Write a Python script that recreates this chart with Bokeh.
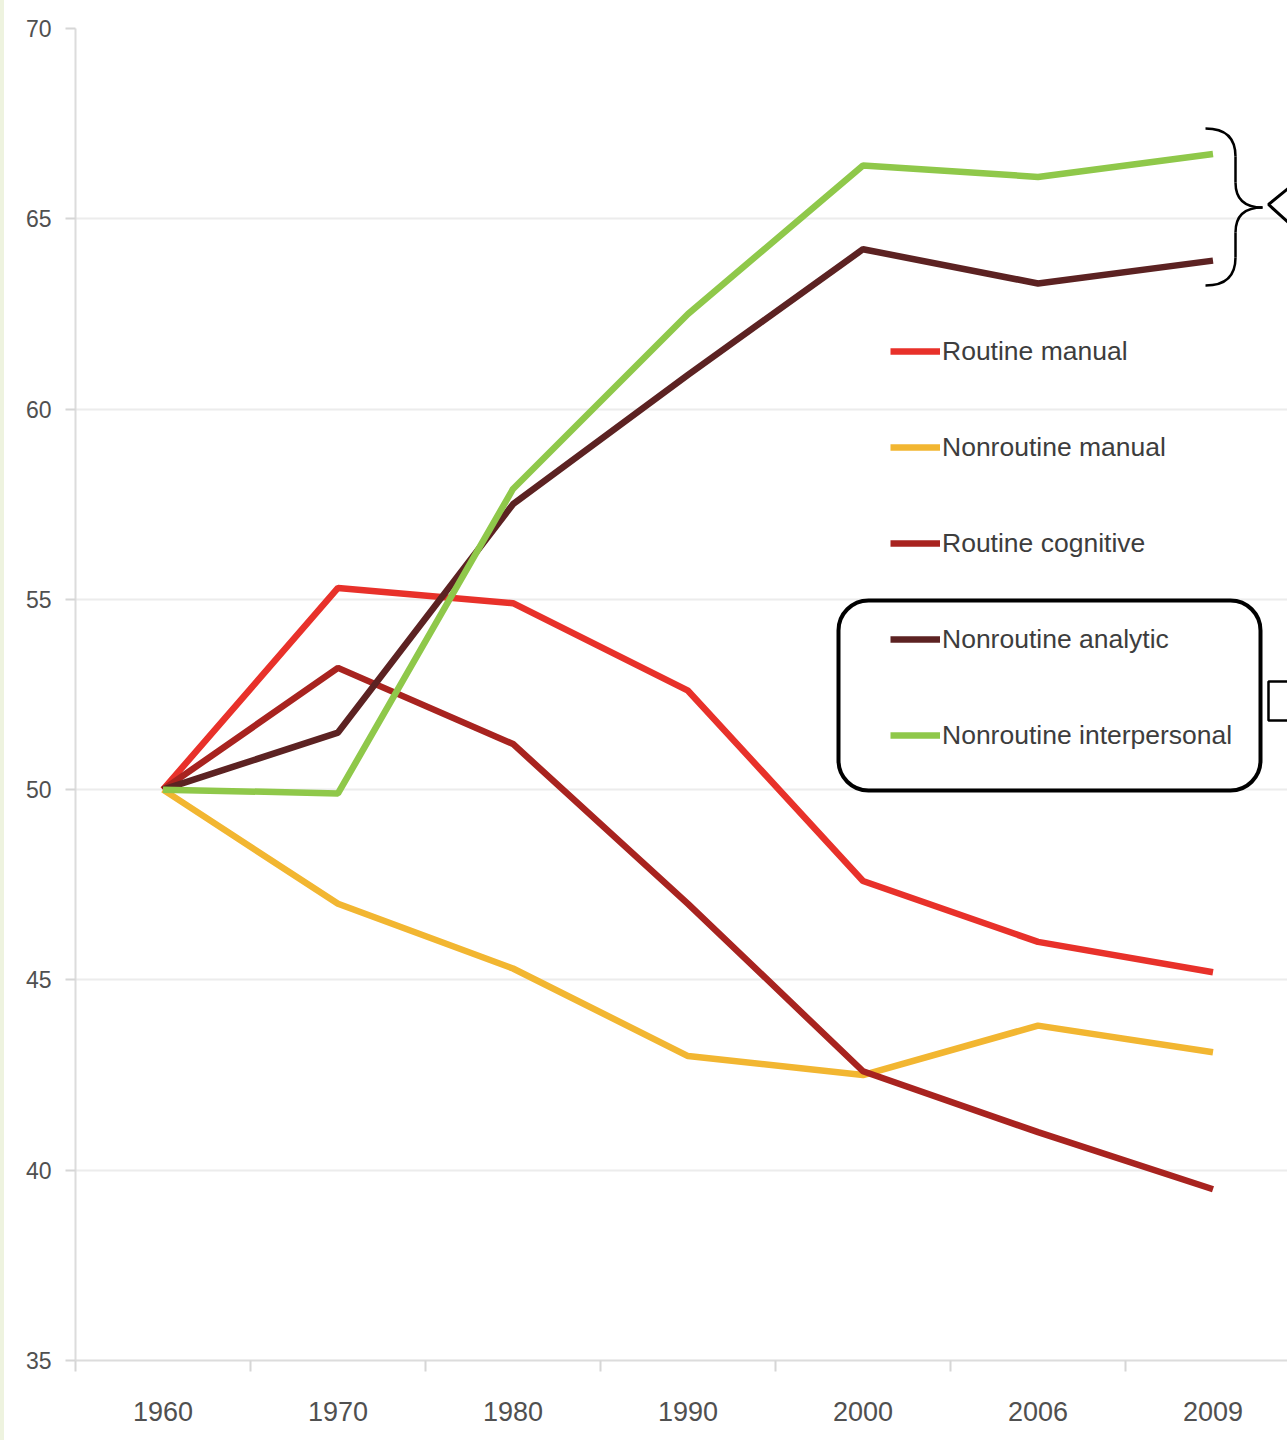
from bokeh.plotting import figure
from bokeh.models import Range1d, FixedTicker, Legend, LegendItem, BoxAnnotation, Div
from bokeh.layouts import row
from bokeh.embed import file_html
from bokeh.resources import INLINE

years = ["1960", "1970", "1980", "1990", "2000", "2006", "2009"]
routine_manual = [50, 55.3, 54.9, 52.6, 47.6, 46.0, 45.2]
nonroutine_manual = [50, 47.0, 45.3, 43.0, 42.5, 43.8, 43.1]
routine_cognitive = [50, 53.2, 51.2, 47.0, 42.6, 41.0, 39.5]
nonroutine_analytic = [50, 51.5, 57.5, 60.9, 64.2, 63.3, 63.9]
nonroutine_interpersonal = [50, 49.9, 57.9, 62.5, 66.4, 66.1, 66.7]
y_ticks = [35, 40, 45, 50, 55, 60, 65, 70]

series = [
    ("Routine manual", routine_manual, "#e8312a"),
    ("Nonroutine manual", nonroutine_manual, "#f2b631"),
    ("Routine cognitive", routine_cognitive, "#a8231f"),
    ("Nonroutine analytic", nonroutine_analytic, "#5c2222"),
    ("Nonroutine interpersonal", nonroutine_interpersonal, "#8fc84a"),
]

FONT = "Liberation Sans"
xs = list(range(len(years)))

# page-pixel helpers for decorative annotations (frame: x 75 -> , y 70 at 28, 35 at 1360)
PX_X0, STEP = 75.0, 175.0
PX_Y70, PX_PER = 28.0, (1360.0 - 28.0) / 35.0
def dx(px):
    return (px - PX_X0) / STEP - 0.5
def dy(py):
    return 70 - (py - PX_Y70) / PX_PER

p = figure(width=1283, height=1440, output_backend="svg", toolbar_location=None,
           x_range=Range1d(-0.5, dx(1287)), y_range=Range1d(35, 70),
           min_border_left=71, min_border_right=0, min_border_top=28, min_border_bottom=80,
           margin=(0, 0, 0, 0))
p.outline_line_color = None
p.background_fill_color = "white"
p.border_fill_color = "white"

p.xaxis.ticker = FixedTicker(ticks=xs, minor_ticks=[i - 0.5 for i in range(len(years) + 1)])
p.xaxis.major_label_overrides = {i: y for i, y in enumerate(years)}
p.xaxis.major_tick_out = 0
p.xaxis.major_tick_in = 0
p.xaxis.minor_tick_out = 11
p.xaxis.minor_tick_in = 0
p.xaxis.minor_tick_line_color = "#d6d6d6"
p.xaxis.minor_tick_line_width = 2
p.xaxis.axis_line_color = "#dcdcdc"
p.xaxis.axis_line_width = 2
p.xaxis.major_label_text_font = FONT
p.xaxis.major_label_text_font_size = "27px"
p.xaxis.major_label_text_color = "#505050"
p.xaxis.major_label_standoff = 30

p.yaxis.ticker = FixedTicker(ticks=y_ticks)
p.yaxis.minor_tick_line_color = None
p.yaxis.major_tick_out = 10
p.yaxis.major_tick_in = 0
p.yaxis.major_tick_line_color = "#d6d6d6"
p.yaxis.major_tick_line_width = 2
p.yaxis.axis_line_color = "#dcdcdc"
p.yaxis.axis_line_width = 2
p.yaxis.major_label_text_font = FONT
p.yaxis.major_label_text_font_size = "23px"
p.yaxis.major_label_text_color = "#505050"
p.yaxis.major_label_standoff = 14

p.xgrid.grid_line_color = None
p.ygrid.ticker = FixedTicker(ticks=y_ticks)
p.ygrid.grid_line_color = "#ececec"
p.ygrid.grid_line_width = 2

items = []
for name, vals, color in series:
    r = p.line(xs, vals, line_color=color, line_width=6.5)
    items.append(LegendItem(label=name, renderers=[r]))

legend = Legend(items=items, location=(815, 605), orientation="vertical",
                glyph_width=50, glyph_height=40, label_height=40, spacing=56,
                label_standoff=2, padding=0, margin=0,
                label_text_font=FONT, label_text_font_size="26.5px", label_text_color="#3d3d3d",
                border_line_alpha=0, background_fill_alpha=0)
p.add_layout(legend)

# rounded box around the last two legend entries
p.add_layout(BoxAnnotation(left=dx(838), right=dx(1260), top=dy(600), bottom=dy(790),
                           border_radius=30, fill_alpha=0, line_color="black",
                           line_alpha=1, line_width=4))

# curly brace at right
bx0, bx1, btip = 1205, 1235, 1262
ytop, ymid, ybot = 128, 207, 285
p.quadratic(x0=[dx(bx0), dx(bx1), dx(btip), dx(bx1)],
            y0=[dy(ytop), dy(ymid - 25), dy(ymid), dy(ybot - 28)],
            x1=[dx(bx1), dx(btip), dx(bx1), dx(bx0)],
            y1=[dy(ytop + 28), dy(ymid), dy(ymid + 25), dy(ybot)],
            cx=[dx(bx1), dx(bx1), dx(bx1), dx(bx1)],
            cy=[dy(ytop), dy(ymid), dy(ymid), dy(ybot)],
            line_color="black", line_width=2.5)
p.segment(x0=[dx(bx1), dx(bx1)], y0=[dy(ytop + 28), dy(ymid + 25)],
          x1=[dx(bx1), dx(bx1)], y1=[dy(ymid - 25), dy(ybot - 28)],
          line_color="black", line_width=2.5)
# callout arrow shapes at the right edge
p.line([dx(1290), dx(1268), dx(1290)], [dy(186), dy(204), dy(224)], line_color="black", line_width=3)
p.line([dx(1290), dx(1268), dx(1268), dx(1290)], [dy(681), dy(681), dy(720), dy(720)],
       line_color="black", line_width=2.5)

strip = Div(text="", width=4, height=1440, margin=(0, 0, 0, 0),
            styles={"background-color": "#eef3df"})
layout = row(strip, p, spacing=0)

open("out.html", "w").write(file_html(layout, INLINE))
